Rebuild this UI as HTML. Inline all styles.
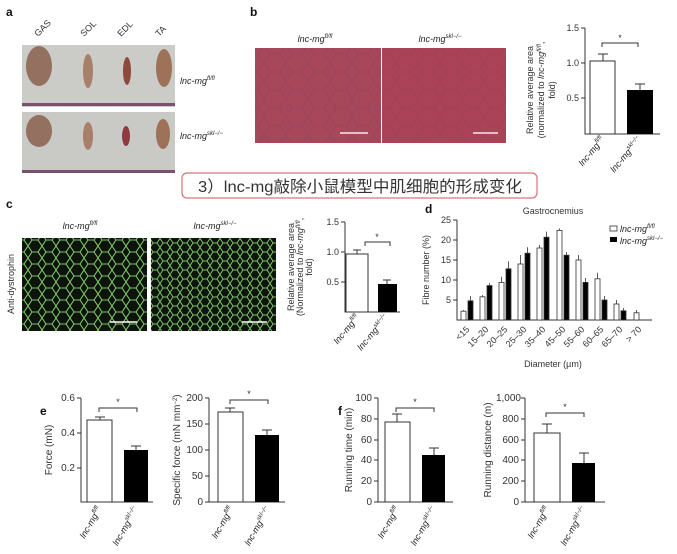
<!DOCTYPE html>
<html><head><meta charset="utf-8"><style>
body{margin:0;background:#fff}
svg{display:block;font-family:"Liberation Sans","Noto Sans CJK SC",sans-serif}
.ax{stroke:#333;stroke-width:1;fill:none}
.t{font-size:9px;fill:#333}
.b{font-size:10px;fill:#333}
.it{font-size:9px;fill:#222;font-style:italic}
.L{font-size:12px;font-weight:bold;fill:#111}
</style></head><body>
<svg width="677" height="554" viewBox="0 0 677 554" xmlns="http://www.w3.org/2000/svg">
<defs>
<pattern id="cells" width="14" height="12" patternUnits="userSpaceOnUse">
<rect width="14" height="12" fill="#0d140c"/>
<path d="M0 6 L4 0 L10 0 L14 6 L10 12 L4 12 Z" fill="none" stroke="#7fc36a" stroke-width="1.1"/>
</pattern>
<pattern id="cells2" width="10" height="9" patternUnits="userSpaceOnUse">
<rect width="10" height="9" fill="#0d140c"/>
<path d="M0 4.5 L3 0 L7 0 L10 4.5 L7 9 L3 9 Z" fill="none" stroke="#7fc36a" stroke-width="1"/>
</pattern>
<pattern id="hist" width="22" height="18" patternUnits="userSpaceOnUse">
<rect width="22" height="18" fill="#a8475a"/>
<path d="M0 9 L6 0 L16 0 L22 9 L16 18 L6 18 Z" fill="none" stroke="#93405a" stroke-width="0.6"/>
</pattern>
</defs>

<!-- panel a -->
<text class="L" x="6" y="16">a</text>
<g class="t" font-size="9">
<text transform="translate(38,37) rotate(-45)">GAS</text>
<text transform="translate(84,37) rotate(-45)">SOL</text>
<text transform="translate(121,37) rotate(-45)">EDL</text>
<text transform="translate(159,37) rotate(-45)">TA</text>
</g>
<rect x="22" y="45" width="153" height="62" fill="#cbccc8"/>
<rect x="22" y="103" width="153" height="3" fill="#7a5070"/>
<rect x="22" y="112" width="153" height="61" fill="#c9cac6"/>
<rect x="22" y="170" width="153" height="3" fill="#7a5070"/>
<ellipse cx="39" cy="66" rx="13" ry="20" fill="#937060"/>
<ellipse cx="88" cy="71" rx="5" ry="17" fill="#a8806a"/>
<ellipse cx="127" cy="71" rx="4" ry="14" fill="#8f4a40"/>
<ellipse cx="164" cy="68" rx="8" ry="19" fill="#9d7258"/>
<ellipse cx="39" cy="131" rx="13" ry="16" fill="#937060"/>
<ellipse cx="88" cy="136" rx="5" ry="14" fill="#a8806a"/>
<ellipse cx="126" cy="136" rx="4" ry="10" fill="#8f3a40"/>
<ellipse cx="163" cy="134" rx="7" ry="15" fill="#9d7258"/>
<text class="it" x="180" y="84">lnc-mg<tspan font-size="6" dy="-4">fl/fl</tspan></text>
<text class="it" x="180" y="139">lnc-mg<tspan font-size="6" dy="-4">skl−/−</tspan></text>

<!-- panel b -->
<text class="L" x="250" y="16">b</text>
<text class="it" x="315" y="42" text-anchor="middle">lnc-mg<tspan font-size="6" dy="-4">fl/fl</tspan></text>
<text class="it" x="440" y="42" text-anchor="middle">lnc-mg<tspan font-size="6" dy="-4">skl−/−</tspan></text>
<rect x="255" y="48" width="126" height="95" fill="url(#hist)"/>
<rect x="382" y="48" width="124" height="95" fill="url(#hist)"/>
<rect x="382" y="48" width="124" height="95" fill="#b03a55" opacity="0.3"/>
<line x1="340" y1="133" x2="368" y2="133" stroke="#eee" stroke-width="1.5"/>
<line x1="473" y1="133" x2="498" y2="133" stroke="#eee" stroke-width="1.5"/>
<text class="t" font-size="8.5" transform="translate(533,90) rotate(-90)" text-anchor="middle">Relative average area</text>
<text class="t" font-size="8.5" transform="translate(544,90) rotate(-90)" text-anchor="middle">(normalized to <tspan font-style="italic">lnc-mg<tspan font-size="6" dy="-3">fl/fl</tspan></tspan><tspan dy="3">,</tspan></text>
<text class="t" font-size="8.5" transform="translate(555,90) rotate(-90)" text-anchor="middle">fold)</text>
<g>
<polyline class="ax" points="585,28 585,134 660,134"/>
<line class="ax" x1="581" y1="28" x2="585" y2="28"/><line class="ax" x1="581" y1="63" x2="585" y2="63"/><line class="ax" x1="581" y1="98" x2="585" y2="98"/>
<text class="t" x="579" y="31" text-anchor="end">1.5</text>
<text class="t" x="579" y="66" text-anchor="end">1.0</text>
<text class="t" x="579" y="101" text-anchor="end">0.5</text>
<line class="ax" x1="603" y1="61" x2="603" y2="54"/><line class="ax" x1="598" y1="54" x2="608" y2="54"/>
<rect x="590" y="61" width="25" height="73" fill="#fff" stroke="#333"/>
<line class="ax" x1="640" y1="90" x2="640" y2="84"/><line class="ax" x1="635" y1="84" x2="645" y2="84"/>
<rect x="627" y="90" width="26" height="44" fill="#000"/>
<polyline class="ax" points="602,47 602,43 638,43 638,47"/>
<text class="t" x="620" y="41" text-anchor="middle">*</text>
<text class="it" transform="translate(605,140) rotate(-50)" text-anchor="end">lnc-mg<tspan font-size="6" dy="-4">fl/fl</tspan></text>
<text class="it" transform="translate(642,140) rotate(-50)" text-anchor="end">lnc-mg<tspan font-size="6" dy="-4">skl−/−</tspan></text>
</g>

<!-- title box -->
<rect x="182" y="173" width="355" height="25" rx="5" fill="#fff" stroke="#d9737b" stroke-width="1.2"/>
<text x="198" y="192" font-size="16" fill="#333" textLength="324" lengthAdjust="spacingAndGlyphs">3）lnc-mg敲除小鼠模型中肌细胞的形成变化</text>

<!-- panel c -->
<text class="L" x="6" y="208">c</text>
<text class="it" x="80" y="229" text-anchor="middle">lnc-mg<tspan font-size="6" dy="-4">fl/fl</tspan></text>
<text class="it" x="215" y="229" text-anchor="middle">lnc-mg<tspan font-size="6" dy="-4">skl−/−</tspan></text>
<rect x="22" y="238" width="125" height="93" fill="url(#cells)"/>
<rect x="151" y="238" width="125" height="93" fill="url(#cells2)"/>
<line x1="110" y1="322" x2="137" y2="322" stroke="#fff" stroke-width="1.5"/>
<line x1="242" y1="322" x2="267" y2="322" stroke="#fff" stroke-width="1.5"/>
<text class="t" transform="translate(14,284) rotate(-90)" text-anchor="middle">Anti-dystrophin</text>
<text class="t" font-size="8.5" transform="translate(294,267) rotate(-90)" text-anchor="middle">Relative average area</text>
<text class="t" font-size="8.5" transform="translate(303,267) rotate(-90)" text-anchor="middle">(Normalized to <tspan font-style="italic">lnc-mg<tspan font-size="6" dy="-3">fl/fl</tspan></tspan><tspan dy="3">,</tspan></text>
<text class="t" font-size="8.5" transform="translate(312,267) rotate(-90)" text-anchor="middle">fold)</text>
<g>
<polyline class="ax" points="345,222 345,312 400,312"/>
<line class="ax" x1="341" y1="222" x2="345" y2="222"/><line class="ax" x1="341" y1="252" x2="345" y2="252"/><line class="ax" x1="341" y1="282" x2="345" y2="282"/>
<text class="t" x="339" y="225" text-anchor="end">1.5</text>
<text class="t" x="339" y="255" text-anchor="end">1.0</text>
<text class="t" x="339" y="285" text-anchor="end">0.5</text>
<line class="ax" x1="357" y1="254" x2="357" y2="250"/><line class="ax" x1="353" y1="250" x2="361" y2="250"/>
<rect x="346" y="254" width="22" height="58" fill="#fff" stroke="#333"/>
<line class="ax" x1="387" y1="284" x2="387" y2="280"/><line class="ax" x1="383" y1="280" x2="391" y2="280"/>
<rect x="378" y="284" width="19" height="28" fill="#000"/>
<polyline class="ax" points="365,246 365,242 390,242 390,246"/>
<text class="t" x="377" y="240" text-anchor="middle">*</text>
<text class="it" transform="translate(360,318) rotate(-50)" text-anchor="end">lnc-mg<tspan font-size="6" dy="-4">fl/fl</tspan></text>
<text class="it" transform="translate(389,318) rotate(-50)" text-anchor="end">lnc-mg<tspan font-size="6" dy="-4">skl−/−</tspan></text>
</g>

<!-- panel d -->
<text class="L" x="425" y="213">d</text>
<text class="t" x="553" y="214" text-anchor="middle">Gastrocnemius</text>
<text class="t" transform="translate(429,270) rotate(-90)" text-anchor="middle">Fibre number (%)</text>
<polyline class="ax" points="457,220 457,320 652,320"/>
<g class="t">
<line class="ax" x1="453" y1="220" x2="457" y2="220"/><text x="451" y="223" text-anchor="end">25</text>
<line class="ax" x1="453" y1="240" x2="457" y2="240"/><text x="451" y="243" text-anchor="end">20</text>
<line class="ax" x1="453" y1="260" x2="457" y2="260"/><text x="451" y="263" text-anchor="end">15</text>
<line class="ax" x1="453" y1="280" x2="457" y2="280"/><text x="451" y="283" text-anchor="end">10</text>
<line class="ax" x1="453" y1="300" x2="457" y2="300"/><text x="451" y="303" text-anchor="end">5</text>
</g>
<g stroke="#333" stroke-width="0.8">
<rect x="461" y="311.2" width="5" height="8.8" fill="#fff"/><line x1="463.5" y1="311" x2="463.5" y2="310"/>
<rect x="480" y="296.8" width="5" height="23.2" fill="#fff"/><line x1="482.5" y1="297" x2="482.5" y2="295"/>
<rect x="499" y="282.4" width="5" height="37.6" fill="#fff"/><line x1="501.5" y1="282" x2="501.5" y2="276.8"/>
<rect x="518" y="264" width="5" height="56" fill="#fff"/><line x1="520.5" y1="264" x2="520.5" y2="255"/>
<rect x="537" y="248" width="5" height="72" fill="#fff"/><line x1="539.5" y1="248" x2="539.5" y2="245"/>
<rect x="557" y="230.4" width="5" height="89.6" fill="#fff"/><line x1="559.5" y1="230" x2="559.5" y2="228.4"/>
<rect x="576" y="260" width="5" height="60" fill="#fff"/><line x1="578.5" y1="260" x2="578.5" y2="255"/>
<rect x="595" y="278.8" width="5" height="41.2" fill="#fff"/><line x1="597.5" y1="279" x2="597.5" y2="272.8"/>
<rect x="614" y="304" width="5" height="16" fill="#fff"/><line x1="616.5" y1="304" x2="616.5" y2="300"/>
<rect x="634" y="312.8" width="5" height="7.2" fill="#fff"/><line x1="636.5" y1="313" x2="636.5" y2="310"/>
<rect x="468" y="300.8" width="5" height="19.2" fill="#000"/><line x1="470.5" y1="301" x2="470.5" y2="296"/>
<rect x="487" y="285.6" width="5" height="34.4" fill="#000"/><line x1="489.5" y1="286" x2="489.5" y2="283.2"/>
<rect x="506" y="268.8" width="5" height="51.2" fill="#000"/><line x1="508.5" y1="269" x2="508.5" y2="261.2"/>
<rect x="525" y="253.2" width="5" height="66.8" fill="#000"/><line x1="527.5" y1="253" x2="527.5" y2="247.2"/>
<rect x="544" y="237.2" width="5" height="82.8" fill="#000"/><line x1="546.5" y1="237" x2="546.5" y2="231.6"/>
<rect x="564" y="255.2" width="5" height="64.8" fill="#000"/><line x1="566.5" y1="255" x2="566.5" y2="252"/>
<rect x="583" y="282.4" width="5" height="37.6" fill="#000"/><line x1="585.5" y1="282" x2="585.5" y2="278"/>
<rect x="602" y="300" width="5" height="20" fill="#000"/><line x1="604.5" y1="300" x2="604.5" y2="296"/>
<rect x="621" y="310.8" width="5" height="9.2" fill="#000"/><line x1="623.5" y1="311" x2="623.5" y2="308"/>
</g>
<g class="t" font-size="8.5" text-anchor="end">
<text transform="translate(470,330) rotate(-45)">&lt;15</text>
<text transform="translate(489,330) rotate(-45)">15–20</text>
<text transform="translate(508,330) rotate(-45)">20–25</text>
<text transform="translate(527,330) rotate(-45)">25–30</text>
<text transform="translate(546,330) rotate(-45)">35–40</text>
<text transform="translate(566,330) rotate(-45)">45–50</text>
<text transform="translate(585,330) rotate(-45)">55–60</text>
<text transform="translate(604,330) rotate(-45)">60–65</text>
<text transform="translate(623,330) rotate(-45)">65–70</text>
<text transform="translate(642,330) rotate(-45)">&gt; 70</text>
</g>
<text class="t" x="553" y="367" text-anchor="middle">Diameter (µm)</text>
<rect x="610" y="226" width="7" height="5" fill="#fff" stroke="#333" stroke-width="0.8"/>
<rect x="610" y="237" width="7" height="5" fill="#000"/>
<text class="it" x="620" y="232">lnc-mg<tspan font-size="6" dy="-4">fl/fl</tspan></text>
<text class="it" x="620" y="244">lnc-mg<tspan font-size="6" dy="-4">skl−/−</tspan></text>

<!-- panel e/f -->
<text class="L" x="40" y="415">e</text>
<text class="L" x="338" y="415">f</text>

<text class="b" transform="translate(52,450) rotate(-90)" text-anchor="middle">Force (mN)</text>
<polyline class="ax" points="81,398 81,502 153,502"/>
<line class="ax" x1="77" y1="398" x2="81" y2="398"/><line class="ax" x1="77" y1="433" x2="81" y2="433"/><line class="ax" x1="77" y1="468" x2="81" y2="468"/>
<text class="b" x="75" y="401" text-anchor="end">0.6</text><text class="b" x="75" y="436" text-anchor="end">0.4</text><text class="b" x="75" y="471" text-anchor="end">0.2</text>
<line class="ax" x1="100" y1="420" x2="100" y2="417"/><line class="ax" x1="95" y1="417" x2="105" y2="417"/>
<rect x="87" y="420" width="25" height="82" fill="#fff" stroke="#333"/>
<line class="ax" x1="136" y1="450" x2="136" y2="446"/><line class="ax" x1="131" y1="446" x2="141" y2="446"/>
<rect x="124" y="450" width="24" height="52" fill="#000"/>
<polyline class="ax" points="99,412 99,408 137,408 137,412"/>
<text class="t" x="118" y="405" text-anchor="middle">*</text>
<text class="it" transform="translate(102,509) rotate(-60)" text-anchor="end">lnc-mg<tspan font-size="6" dy="-4">fl/fl</tspan></text>
<text class="it" transform="translate(139,509) rotate(-60)" text-anchor="end">lnc-mg<tspan font-size="6" dy="-4">skl−/−</tspan></text>

<text class="b" transform="translate(180,450) rotate(-90)" text-anchor="middle">Specific force (mN mm<tspan font-size="6" dy="-3">−2</tspan><tspan dy="3">)</tspan></text>
<polyline class="ax" points="209,398 209,502 285,502"/>
<g class="b" text-anchor="end">
<line class="ax" x1="205" y1="398" x2="209" y2="398"/><text x="203" y="401">200</text>
<line class="ax" x1="205" y1="424" x2="209" y2="424"/><text x="203" y="427">150</text>
<line class="ax" x1="205" y1="450" x2="209" y2="450"/><text x="203" y="453">100</text>
<line class="ax" x1="205" y1="476" x2="209" y2="476"/><text x="203" y="479">50</text>
<line class="ax" x1="205" y1="502" x2="209" y2="502"/><text x="203" y="505">0</text>
</g>
<line class="ax" x1="230" y1="412" x2="230" y2="408"/><line class="ax" x1="225" y1="408" x2="235" y2="408"/>
<rect x="218" y="412" width="25" height="90" fill="#fff" stroke="#333"/>
<line class="ax" x1="267" y1="435" x2="267" y2="430"/><line class="ax" x1="262" y1="430" x2="272" y2="430"/>
<rect x="255" y="435" width="24" height="67" fill="#000"/>
<polyline class="ax" points="230,404 230,400 268,400 268,404"/>
<text class="t" x="249" y="397" text-anchor="middle">*</text>
<text class="it" transform="translate(234,509) rotate(-60)" text-anchor="end">lnc-mg<tspan font-size="6" dy="-4">fl/fl</tspan></text>
<text class="it" transform="translate(271,509) rotate(-60)" text-anchor="end">lnc-mg<tspan font-size="6" dy="-4">skl−/−</tspan></text>

<text class="b" transform="translate(352,450) rotate(-90)" text-anchor="middle">Running time (min)</text>
<polyline class="ax" points="378,398 378,502 453,502"/>
<g class="b" text-anchor="end">
<line class="ax" x1="374" y1="398" x2="378" y2="398"/><text x="372" y="401">100</text>
<line class="ax" x1="374" y1="419" x2="378" y2="419"/><text x="372" y="422">80</text>
<line class="ax" x1="374" y1="440" x2="378" y2="440"/><text x="372" y="443">60</text>
<line class="ax" x1="374" y1="460" x2="378" y2="460"/><text x="372" y="463">40</text>
<line class="ax" x1="374" y1="481" x2="378" y2="481"/><text x="372" y="484">20</text>
<line class="ax" x1="374" y1="502" x2="378" y2="502"/><text x="372" y="505">0</text>
</g>
<line class="ax" x1="397" y1="422" x2="397" y2="414"/><line class="ax" x1="392" y1="414" x2="402" y2="414"/>
<rect x="385" y="422" width="25" height="80" fill="#fff" stroke="#333"/>
<line class="ax" x1="434" y1="455" x2="434" y2="448"/><line class="ax" x1="429" y1="448" x2="439" y2="448"/>
<rect x="422" y="455" width="23" height="47" fill="#000"/>
<polyline class="ax" points="396,412 396,408 434,408 434,412"/>
<text class="t" x="415" y="405" text-anchor="middle">*</text>
<text class="it" transform="translate(400,509) rotate(-60)" text-anchor="end">lnc-mg<tspan font-size="6" dy="-4">fl/fl</tspan></text>
<text class="it" transform="translate(437,509) rotate(-60)" text-anchor="end">lnc-mg<tspan font-size="6" dy="-4">skl−/−</tspan></text>

<text class="b" transform="translate(491,450) rotate(-90)" text-anchor="middle">Running distance (m)</text>
<polyline class="ax" points="525,398 525,502 605,502"/>
<g class="b" text-anchor="end">
<line class="ax" x1="521" y1="398" x2="525" y2="398"/><text x="521" y="401">1,000</text>
<line class="ax" x1="521" y1="419" x2="525" y2="419"/><text x="519" y="422">800</text>
<line class="ax" x1="521" y1="440" x2="525" y2="440"/><text x="519" y="443">600</text>
<line class="ax" x1="521" y1="460" x2="525" y2="460"/><text x="519" y="463">400</text>
<line class="ax" x1="521" y1="481" x2="525" y2="481"/><text x="519" y="484">200</text>
<line class="ax" x1="521" y1="502" x2="525" y2="502"/><text x="519" y="505">0</text>
</g>
<line class="ax" x1="547" y1="433" x2="547" y2="424"/><line class="ax" x1="542" y1="424" x2="552" y2="424"/>
<rect x="534" y="433" width="26" height="69" fill="#fff" stroke="#333"/>
<line class="ax" x1="584" y1="463" x2="584" y2="453"/><line class="ax" x1="579" y1="453" x2="589" y2="453"/>
<rect x="572" y="463" width="23" height="39" fill="#000"/>
<polyline class="ax" points="546,417 546,413 584,413 584,417"/>
<text class="t" x="565" y="410" text-anchor="middle">*</text>
<text class="it" transform="translate(550,509) rotate(-60)" text-anchor="end">lnc-mg<tspan font-size="6" dy="-4">fl/fl</tspan></text>
<text class="it" transform="translate(587,509) rotate(-60)" text-anchor="end">lnc-mg<tspan font-size="6" dy="-4">skl−/−</tspan></text>
</svg>
</body></html>
